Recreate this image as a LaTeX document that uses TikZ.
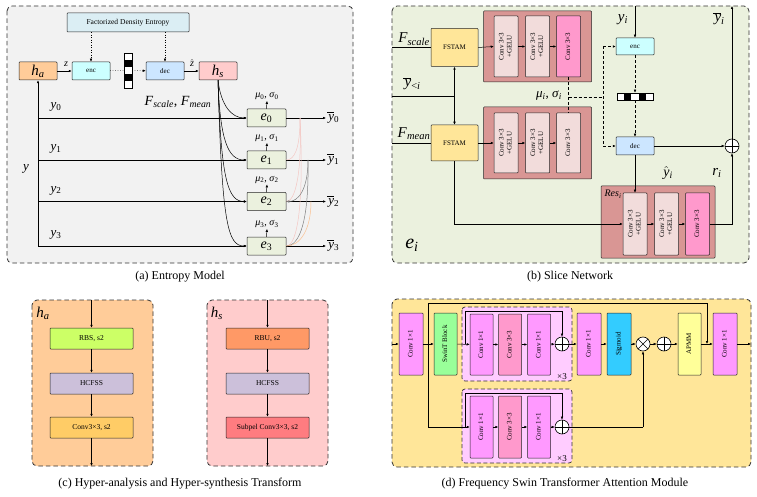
\documentclass[tikz,border=0pt]{standalone}
\usepackage{fontspec}
\setmainfont{Liberation Serif}
\usepackage{graphicx}
\usetikzlibrary{arrows.meta,calc}
\definecolor{bgA}{HTML}{F2F2F2}
\definecolor{bgB}{HTML}{EBF1DE}
\definecolor{bgD}{HTML}{FFE699}
\definecolor{fde}{HTML}{DBEEF4}
\definecolor{haC}{HTML}{FFCC99}
\definecolor{encC}{HTML}{CCFFFF}
\definecolor{decC}{HTML}{CCE6FF}
\definecolor{hsC}{HTML}{FFCCCC}
\definecolor{eC}{HTML}{EBF1DE}
\definecolor{fst}{HTML}{FFE699}
\definecolor{redC}{HTML}{D99694}
\definecolor{convL}{HTML}{F2DCDB}
\definecolor{convP}{HTML}{FF99CC}
\definecolor{rbs}{HTML}{CCFF66}
\definecolor{hcf}{HTML}{CCC0DA}
\definecolor{cvg}{HTML}{FFCC66}
\definecolor{rbu}{HTML}{FF9966}
\definecolor{subC}{HTML}{FF7C80}
\definecolor{mag}{HTML}{FF99FF}
\definecolor{swinC}{HTML}{99FF99}
\definecolor{pcont}{HTML}{FFCCFF}
\definecolor{sigC}{HTML}{33CCFF}
\definecolor{apm}{HTML}{FFFF99}
\newcommand\vtext[1]{\rotatebox{90}{\begin{tabular}{@{}c@{}}#1\end{tabular}}}
\newcommand\vv[2]{\textit{#1}\textsubscript{#2}}
\newcommand\ob[1]{\leavevmode\vbox{\hrule height 0.7pt\kern 1.6pt\hbox{\kern1.2pt\textit{#1}}}}
\newcommand\hatv[1]{$\hat{\mbox{\textit{#1}}}$}
\begin{document}
\begin{tikzpicture}[x=1pt,y=-1pt,
  frame/.style={draw=black!80, dash pattern=on 4.5pt off 3pt, line width=0.8pt, rounded corners=5pt},
  pframe/.style={draw=black!80, dash pattern=on 4pt off 2.5pt, line width=0.7pt, rounded corners=3pt},
  bx/.style={draw=black!85, line width=0.5pt, rounded corners=0.8pt, inner sep=0pt, font=\fontsize{7}{8}\selectfont, align=center},
  arr/.style={-{Latex[length=3pt,width=2.6pt]}, line width=0.5pt},
  darr/.style={{Latex[length=3pt,width=2.6pt]}-{Latex[length=3pt,width=2.6pt]}, line width=0.5pt},
  ln/.style={line width=0.5pt},
  dsh/.style={dash pattern=on 3pt off 2pt},
  lab/.style={inner sep=1pt, font=\fontsize{13}{15}\selectfont},
  captxt/.style={inner sep=1pt, font=\fontsize{12}{14}\selectfont},
  oplus/.style={circle, draw, fill=white, line width=0.6pt, minimum size=14pt, inner sep=0pt,
    path picture={\draw[line width=0.6pt] (path picture bounding box.north) -- (path picture bounding box.south) (path picture bounding box.west) -- (path picture bounding box.east);}},
  otimes/.style={circle, draw, fill=white, line width=0.6pt, minimum size=14pt, inner sep=0pt,
    path picture={\draw[line width=0.6pt] (path picture bounding box.north west) -- (path picture bounding box.south east) (path picture bounding box.north east) -- (path picture bounding box.south west);}}
]
\useasboundingbox (0,0) rectangle (757,497);
\fill[white] (0,0) rectangle (757,497);

% ================= (a) Entropy Model =================
\draw[frame, fill=bgA] (7,6) rectangle (353,263);
\node[bx, fill=fde, minimum width=122pt, minimum height=19pt, font=\fontsize{7.5}{9}\selectfont] (fde) at (128,22.5) {Factorized Density Entropy};
\node[bx, fill=haC, minimum width=38pt, minimum height=18pt, font=\fontsize{15}{16}\selectfont] (ha) at (38,71) {\vv{h}{\textit{a}}};
\node[bx, fill=encC, minimum width=38pt, minimum height=18pt] (enc) at (91,71) {enc};
\foreach \i/\c in {0/white,1/black,2/white,3/black,4/white}
  \fill[\c] (124,{53+7*\i}) rectangle ++(8,7);
\node[draw, line width=0.5pt, minimum width=8pt, minimum height=35pt, inner sep=0pt] (stripA) at (128,70.5) {};
\node[bx, fill=decC, minimum width=38pt, minimum height=18pt] (dec) at (165,71) {dec};
\node[bx, fill=hsC, minimum width=38pt, minimum height=18pt, font=\fontsize{15}{16}\selectfont] (hs) at (218,71) {\vv{h}{\textit{s}}};

\draw[arr] (ha) -- (enc);
\draw[ln, dotted] (enc) -- (stripA);
\draw[arr, dotted] (stripA) -- (dec);
\draw[arr] (dec) -- (hs);
\draw[arr, dotted] (fde.south -| enc) -- (enc.north);
\draw[arr, dotted] (fde.south -| dec) -- (dec.north);
\node[lab, font=\fontsize{10}{12}\selectfont] (zl) at (66,64) {\textit{z}};
\node[lab, font=\fontsize{10}{12}\selectfont] (zhl) at (192,63) {\hatv{z}};
\node[lab, font=\fontsize{14}{16}\selectfont] (fsm) at (178,102) {\vv{F}{\textit{scale}}, \vv{F}{\textit{mean}}};
\node[lab] (yl) at (26,169) {\textit{y}};

\foreach \i/\yy in {0/118,1/160,2/201.5,3/246} {
  \node[bx, fill=eC, minimum width=39pt, minimum height=18pt, font=\fontsize{14}{15}\selectfont] (e\i) at (266.5,\yy) {\vv{e}{\i}};
  \node[lab, font=\fontsize{10}{11}\selectfont] (mu\i) at (267,{\yy-22}) {\vv{μ}{\i}, \vv{σ}{\i}};
  \draw[arr] (e\i.north) -- (mu\i.south);
  \node[lab, anchor=west] (yb\i) at (326,\yy) {\ob{y}\textsubscript{\i}};
  \draw[arr] (e\i.east) -- (yb\i.west);
  \node[lab] (yl\i) at (56,{\yy-11}) {\vv{y}{\i}};
  \draw[arr] (ha.south |- e\i.west) -- (e\i.west);
}
\draw[arr] (ha.south |- e3.west) -- (ha.south);

% curves from h_s
\draw[arr] (hs.south) .. controls (221,106) and (232,118) .. (e0.west);
\draw[arr] (hs.south) .. controls (220,140) and (228,160) .. (e1.west);
\draw[arr] (hs.south) .. controls (221,180) and (228,201.5) .. (e2.west);
\draw[arr] (hs.south) .. controls (222,225) and (228,246) .. (e3.west);

% faint recursive curves
\coordinate (p0) at (300,118);
\coordinate (p1) at (308,160);
\coordinate (p2) at (311,201.5);
\draw[ln, color={rgb,255:red,244;green,199;blue,195}] (p0) .. controls (300,150) and (294,160) .. (e1.east);
\draw[ln, color={rgb,255:red,244;green,199;blue,195}] (p0) .. controls (302,170) and (296,201.5) .. (e2.east);
\draw[ln, color={rgb,255:red,244;green,199;blue,195}] (p0) .. controls (304,200) and (298,246) .. (e3.east);
\draw[arr, color=black!50] (p1) .. controls (308,190) and (298,201.5) .. (e2.east);
\draw[ln, color=black!50] (p1) .. controls (309,220) and (300,246) .. (e3.east);
\draw[ln, color={rgb,255:red,250;green,192;blue,144}] (p2) .. controls (311,230) and (300,246) .. (e3.east);

\node[captxt] (capA) at (180,277) {(a) Entropy Model};

% ================= (b) Slice Network =================
\draw[frame, fill=bgB] (392,6) rectangle (749,263);
\node[bx, fill=fst, minimum width=47pt, minimum height=38pt] (fs1) at (454.5,47.5) {FSTAM};
\node[bx, fill=fst, minimum width=47pt, minimum height=36pt] (fs2) at (454.5,143) {FSTAM};
\node[bx, fill=redC, minimum width=108pt, minimum height=71pt] (ra) at (537.5,46.5) {};
\node[bx, fill=convL, minimum width=24pt, minimum height=61pt] (ca1) at (506,46.5) {\vtext{Conv 3×3\\+GELU}};
\node[bx, fill=convL, minimum width=24pt, minimum height=61pt] (ca2) at (537.5,46.5) {\vtext{Conv 3×3\\+GELU}};
\node[bx, fill=convP, minimum width=24pt, minimum height=61pt] (ca3) at (568.5,46.5) {\vtext{Conv 3×3}};
\node[bx, fill=redC, minimum width=108pt, minimum height=72pt] (rb) at (537.5,143) {};
\node[bx, fill=convL, minimum width=24pt, minimum height=60pt] (cb1) at (506,143) {\vtext{Conv 3×3\\+GELU}};
\node[bx, fill=convL, minimum width=24pt, minimum height=60pt] (cb2) at (537.5,143) {\vtext{Conv 3×3\\+GELU}};
\node[bx, fill=convL, minimum width=24pt, minimum height=60pt] (cb3) at (568.5,143) {\vtext{Conv 3×3}};

\coordinate (fsin) at (392,47.5);
\coordinate (ybin) at (392,96);
\coordinate (ybj) at (454.5,96);
\coordinate (fmin) at (392,143);
\draw[ln] (fsin) -- (fs1.west);
\draw[ln] (ybin) -- (ybj);
\draw[ln] (fmin) -- (fs2.west);
\draw[darr] (fs1.south) -- (fs2.north);
\draw[arr] (fs1.east) -- (ca1.west);
\draw[arr] (ca1) -- (ca2);
\draw[arr] (ca2) -- (ca3);
\draw[arr] (fs2.east) -- (cb1.west);
\draw[arr] (cb1) -- (cb2);
\draw[arr] (cb2) -- (cb3);
\node[lab, font=\fontsize{15}{16}\selectfont] (fsl) at (414,39) {\vv{F}{\textit{scale}}};
\node[lab, font=\fontsize{15}{16}\selectfont] (ybl) at (412,84) {\ob{y}\textsubscript{<\textit{i}}};
\node[lab, font=\fontsize{15}{16}\selectfont] (fml) at (414,134) {\vv{F}{\textit{mean}}};

\node[bx, fill=encC, minimum width=38pt, minimum height=17pt] (encB) at (635,46.5) {enc};
\node[bx, fill=decC, minimum width=38pt, minimum height=18pt] (decB) at (635,146) {dec};
\foreach \i/\c in {0/white,1/black,2/white,3/black,4/white}
  \fill[\c] ({617+7.2*\i},93) rectangle ++(7.2,7);
\node[draw, line width=0.5pt, minimum width=36pt, minimum height=7pt, inner sep=0pt] (stripB) at (635,96.5) {};

\coordinate (mj) at (568.5,97);
\coordinate (dv) at (603,97);
\coordinate (dt) at (603,46.5);
\coordinate (db) at (603,146);
\draw[ln, dsh] (ca3.south) -- (cb3.north);
\draw[ln, dsh] (mj) -- (dv);
\draw[ln, dsh] (dt) -- (db);
\draw[arr, dsh] (dt) -- (encB.west);
\draw[arr, dsh] (db) -- (decB.west);
\draw[arr, dsh] (encB.south) -- (stripB.north);
\draw[arr, dsh] (stripB.south) -- (decB.north);
\node[lab] (mul) at (549,96) {\vv{μ}{\textit{i}}, \vv{σ}{\textit{i}}};

\coordinate (yitop) at (635,6);
\draw[arr] (yitop) -- (encB.north);
\node[lab, font=\fontsize{15}{16}\selectfont] (yil) at (623,20) {\vv{y}{\textit{i}}};
\node[oplus] (opB) at (732,146) {};
\coordinate (ybtop) at (732,6);
\draw[arr] (decB.east) -- (opB.west);
\draw[arr] (opB.north) -- (ybtop);
\node[lab, font=\fontsize{15}{16}\selectfont] (ybil) at (719,19) {\ob{y}\textsubscript{\textit{i}}};
\node[lab, font=\fontsize{14}{15}\selectfont] (yhl) at (668,173) {\hatv{y}\textsubscript{\textit{i}}};
\node[lab, font=\fontsize{15}{16}\selectfont] (ril) at (717,173) {\vv{r}{\textit{i}}};

\node[bx, fill=redC, minimum width=114pt, minimum height=72pt] (res) at (658,222) {};
\node[lab, font=\fontsize{10}{12}\selectfont] (resl) at (613,194) {\vv{Res}{\textit{i}}};
\node[bx, fill=convL, minimum width=24pt, minimum height=62pt] (r1) at (635,224) {\vtext{Conv 3×3\\+GELU}};
\node[bx, fill=convL, minimum width=24pt, minimum height=62pt] (r2) at (666.5,224) {\vtext{Conv 3×3\\+GELU}};
\node[bx, fill=convP, minimum width=24pt, minimum height=62pt] (r3) at (697.5,224) {\vtext{Conv 3×3}};
\coordinate (fsd) at (454.5,224);
\coordinate (rc) at (732,224);
\draw[arr] (decB.south) -- (r1.north);
\draw[arr] (fs2.south) -- (fsd) -- (r1.west);
\draw[arr] (r1) -- (r2);
\draw[arr] (r2) -- (r3);
\draw[arr] (r3.east) -- (rc) -- (opB.south);
\node[lab, font=\fontsize{20}{22}\selectfont] (eil) at (412,245) {\vv{e}{\textit{i}}};

\node[captxt] (capB) at (570,277) {(b) Slice Network};

% ================= (c) Hyper transforms =================
\draw[frame, fill=haC] (32,300) rectangle (153,466);
\draw[frame, fill=hsC] (207,300) rectangle (328,466);
\node[lab, font=\fontsize{15}{16}\selectfont] (hal) at (43,313) {\vv{h}{\textit{a}}};
\node[lab, font=\fontsize{15}{16}\selectfont] (hsl) at (217,313) {\vv{h}{\textit{s}}};
\node[bx, fill=rbs, minimum width=83pt, minimum height=21pt, font=\fontsize{7.5}{9}\selectfont] (rbs) at (91.5,338.5) {RBS, s2};
\node[bx, fill=hcf, minimum width=83pt, minimum height=21pt, font=\fontsize{7.5}{9}\selectfont] (hc1) at (91.5,383.5) {HCFSS};
\node[bx, fill=cvg, minimum width=83pt, minimum height=21pt, font=\fontsize{7.5}{9}\selectfont] (cv1) at (91.5,427.5) {Conv3×3, s2};
\node[bx, fill=rbu, minimum width=83pt, minimum height=21pt, font=\fontsize{7.5}{9}\selectfont] (rbu) at (267.5,338.5) {RBU, s2};
\node[bx, fill=hcf, minimum width=83pt, minimum height=21pt, font=\fontsize{7.5}{9}\selectfont] (hc2) at (267.5,383.5) {HCFSS};
\node[bx, fill=subC, minimum width=83pt, minimum height=21pt, font=\fontsize{7.5}{9}\selectfont] (sb2) at (267.5,427.5) {Subpel Conv3×3, s2};
\coordinate (hain) at (91.5,300);
\coordinate (haout) at (91.5,466);
\coordinate (hsin) at (267.5,300);
\coordinate (hsout) at (267.5,466);
\draw[arr] (hain) -- (rbs.north);
\draw[arr] (rbs) -- (hc1);
\draw[arr] (hc1) -- (cv1);
\draw[arr] (cv1.south) -- (haout);
\draw[arr] (hsin) -- (rbu.north);
\draw[arr] (rbu) -- (hc2);
\draw[arr] (hc2) -- (sb2);
\draw[arr] (sb2.south) -- (hsout);
\node[captxt] (capC) at (180,484) {(c) Hyper-analysis and Hyper-synthesis Transform};

% ================= (d) FSTAM =================
\draw[frame, fill=bgD] (392,299) rectangle (751,467);
\draw[pframe, fill=pcont] (462,307) rectangle (572,381);
\draw[pframe, fill=pcont] (462,389) rectangle (572,463);
\node[bx, fill=mag, minimum width=24pt, minimum height=62pt] (dc1) at (411,344) {\vtext{Conv 1×1}};
\node[bx, fill=swinC, minimum width=23pt, minimum height=62pt] (sw) at (445.5,344) {\vtext{SwinT Block}};
\node[bx, fill=mag, minimum width=23pt, minimum height=61pt] (p1a) at (481.5,344.5) {\vtext{Conv 1×1}};
\node[bx, fill=convP, minimum width=23pt, minimum height=61pt] (p1b) at (510,344.5) {\vtext{Conv 3×3}};
\node[bx, fill=mag, minimum width=23pt, minimum height=61pt] (p1c) at (539,344.5) {\vtext{Conv 1×1}};
\node[oplus] (pl1) at (562,344) {};
\node[bx, fill=mag, minimum width=23pt, minimum height=62pt] (p2a) at (481.5,427) {\vtext{Conv 1×1}};
\node[bx, fill=convP, minimum width=23pt, minimum height=62pt] (p2b) at (510,427) {\vtext{Conv 3×3}};
\node[bx, fill=mag, minimum width=23pt, minimum height=62pt] (p2c) at (539,427) {\vtext{Conv 1×1}};
\node[oplus] (pl2) at (562,427) {};
\node[inner sep=0pt, font=\fontsize{9}{10}\selectfont] (x3a) at (562,377) {×3};
\node[inner sep=0pt, font=\fontsize{9}{10}\selectfont] (x3b) at (562,459) {×3};
\node[bx, fill=mag, minimum width=24pt, minimum height=62pt] (dc2) at (589,344) {\vtext{Conv 1×1}};
\node[bx, fill=sigC, minimum width=24pt, minimum height=62pt] (sg) at (619,344) {\vtext{Sigmoid}};
\node[otimes] (ot) at (643,344) {};
\node[oplus] (op2) at (664,344) {};
\node[bx, fill=apm, minimum width=23pt, minimum height=62pt] (apmm) at (689.5,344) {\vtext{APMM}};
\node[bx, fill=mag, minimum width=24pt, minimum height=62pt] (dc3) at (725,344) {\vtext{Conv 1×1}};

\coordinate (din) at (392,344);
\coordinate (dout) at (751,344);
\coordinate (j1) at (428,344);
\coordinate (j1t) at (428,303);
\coordinate (j2t) at (707,303);
\coordinate (j2) at (707,344);
\coordinate (j1b) at (428,427);
\coordinate (s1a) at (465,344);
\coordinate (s1b) at (465,311);
\coordinate (s1c) at (562,311);
\coordinate (s2a) at (465,427);
\coordinate (s2b) at (465,393);
\coordinate (s2c) at (562,393);
\coordinate (mb) at (643,427);
\draw[arr] (din) -- (dc1.west);
\draw[arr] (dc1) -- (sw);
\draw[arr] (sw) -- (p1a);
\draw[ln] (s1a) -- (s1b) -- (s1c);
\draw[arr] (s1c) -- (pl1.north);
\draw[arr] (p1a) -- (p1b);
\draw[arr] (p1b) -- (p1c);
\draw[arr] (p1c) -- (pl1);
\draw[arr] (pl1) -- (dc2);
\draw[arr] (dc2) -- (sg);
\draw[arr] (sg) -- (ot);
\draw[arr] (ot) -- (op2);
\draw[arr] (op2) -- (apmm);
\draw[arr] (apmm) -- (dc3);
\draw[arr] (dc3.east) -- (dout);
\draw[ln] (j1) -- (j1t) -- (j2t);
\draw[arr] (j2t) -- (j2);
\draw[ln] (j1) -- (j1b);
\draw[arr] (j1b) -- (p2a.west);
\draw[ln] (s2a) -- (s2b) -- (s2c);
\draw[arr] (s2c) -- (pl2.north);
\draw[arr] (p2a) -- (p2b);
\draw[arr] (p2b) -- (p2c);
\draw[arr] (p2c) -- (pl2);
\draw[ln] (pl2.east) -- (mb);
\draw[arr] (mb) -- (ot.south);
\node[captxt] (capD) at (565,484) {(d) Frequency Swin Transformer Attention Module};
\end{tikzpicture}
\end{document}
